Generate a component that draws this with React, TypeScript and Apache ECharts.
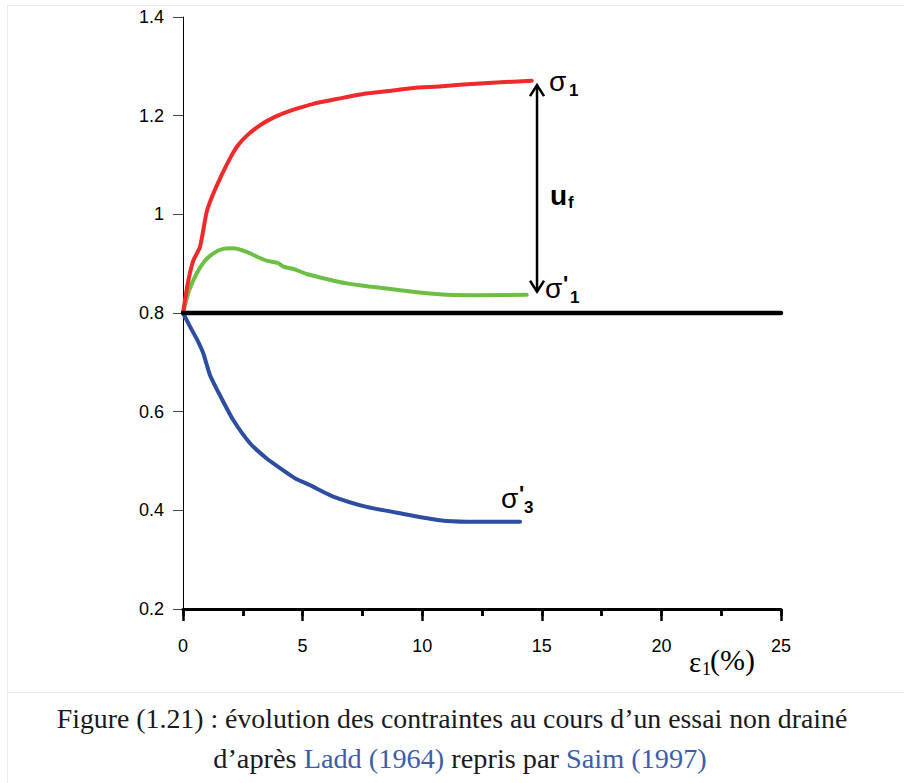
import React, { useEffect, useRef } from "react";
import * as echarts from "echarts";

// strain ε1 (%) and stresses
const sigma1Strain = [0, 0.2, 0.43, 0.71, 0.99, 1.25, 1.55, 1.96, 2.3, 2.66, 3.2, 3.78, 4.5, 5.45, 6.56, 7.54, 8.6, 9.63, 10.7, 11.72, 13.1, 14.58];
const sigma1Values = [0.8, 0.86, 0.906, 0.934, 1.005, 1.04, 1.073, 1.113, 1.14, 1.159, 1.18, 1.196, 1.21, 1.224, 1.235, 1.244, 1.25, 1.256, 1.259, 1.263, 1.267, 1.271];

const sigmaP1Strain = [0, 0.25, 0.57, 0.9, 1.27, 1.68, 2.1, 2.66, 3.1, 3.5, 3.98, 4.19, 4.7, 5.17, 6.0, 6.84, 7.9, 8.93, 10.0, 11.02, 12.42, 14.37];
const sigmaP1Values = [0.8, 0.845, 0.88, 0.905, 0.921, 0.93, 0.931, 0.924, 0.914, 0.906, 0.901, 0.894, 0.888, 0.879, 0.869, 0.86, 0.853, 0.847, 0.841, 0.837, 0.836, 0.837];

const sigmaP3Strain = [0, 0.29, 0.6, 0.85, 1.13, 1.6, 2.1, 2.8, 3.5, 4.1, 4.68, 5.31, 6.28, 7.68, 9.07, 10.74, 11.86, 13.25, 14.09];
const sigmaP3Values = [0.8, 0.773, 0.745, 0.718, 0.674, 0.628, 0.583, 0.536, 0.505, 0.484, 0.465, 0.451, 0.428, 0.407, 0.394, 0.38, 0.377, 0.377, 0.377];

const sigma3Strain = [0, 25];
const sigma3Values = [0.8, 0.8];

// u_f arrow: strain, top, bottom
const ufArrow = [[14.8, 1.264, 0.841]];

const xTicks = { min: 0, max: 25, interval: 5, minorInterval: 2.5 };
const yTicks = { min: 0.2, max: 1.4, interval: 0.2 };

const zip = (xs: number[], ys: number[]) => xs.map((x, i) => [x, ys[i]]);

const SANS = "'Liberation Sans', Arial, sans-serif";
const SERIF = "'Liberation Serif', 'Times New Roman', serif";

const GRID_H = 592;

export default function App() {
  const ref = useRef<HTMLDivElement>(null);

  useEffect(() => {
    if (!ref.current) return;
    const chart = echarts.init(ref.current, null, { renderer: "svg" });

    const lineStyle = (color: string, width = 4) => ({ color, width, cap: "round" as const, join: "round" as const });

    const option: any = {
      animation: false,
      backgroundColor: "#ffffff",
      grid: { left: 183, top: 17, width: 598, height: GRID_H, containLabel: false },
      xAxis: [
        {
          type: "value",
          position: "bottom",
          min: xTicks.min,
          max: xTicks.max,
          interval: xTicks.interval,
          axisLine: { show: true, onZero: false, lineStyle: { color: "#000", width: 3 } },
          axisTick: { show: true, length: 12, lineStyle: { color: "#000", width: 2.5 } },
          minorTick: { show: true, splitNumber: 2, length: 7, lineStyle: { color: "#000", width: 2.5 } },
          splitLine: { show: false },
          axisLabel: { fontFamily: SANS, fontSize: 18, color: "#000", margin: 28 },
          z: 3,
        },
        {
          type: "value",
          position: "top",
          offset: -GRID_H,
          min: xTicks.min,
          max: xTicks.max,
          interval: xTicks.minorInterval,
          axisLine: { show: false, onZero: false },
          axisTick: { show: true, inside: true, length: 7, lineStyle: { color: "#000", width: 2.5 } },
          splitLine: { show: false },
          axisLabel: { show: false },
        },
      ],
      yAxis: {
        type: "value",
        min: yTicks.min,
        max: yTicks.max,
        interval: yTicks.interval,
        axisLine: { show: true, onZero: false, lineStyle: { color: "#000", width: 1 } },
        axisTick: { show: true, length: 10, lineStyle: { color: "#444", width: 1 } },
        splitLine: { show: false },
        axisLabel: { fontFamily: SANS, fontSize: 18, color: "#000", margin: 19 },
      },
      series: [
        { type: "line", data: zip(sigmaP3Strain, sigmaP3Values), showSymbol: false, smooth: 0.2, lineStyle: lineStyle("#2d4da0") },
        { type: "line", data: zip(sigmaP1Strain, sigmaP1Values), showSymbol: false, smooth: 0.2, lineStyle: lineStyle("#6dbe45") },
        { type: "line", data: zip(sigma1Strain, sigma1Values), showSymbol: false, smooth: 0.2, lineStyle: lineStyle("#ee2a2a") },
        { type: "line", data: zip(sigma3Strain, sigma3Values), showSymbol: false, lineStyle: lineStyle("#000000", 4.5) },
        {
          type: "custom",
          data: ufArrow,
          renderItem: (params: any, api: any) => {
            const top = api.coord([api.value(0), api.value(1)]);
            const bot = api.coord([api.value(0), api.value(2)]);
            const st = { stroke: "#000", lineWidth: 2.5, fill: null, lineJoin: "miter", lineCap: "butt" };
            return {
              type: "group",
              children: [
                { type: "line", shape: { x1: top[0], y1: top[1] + 1, x2: bot[0], y2: bot[1] - 1 }, style: st },
                { type: "polyline", shape: { points: [[top[0] - 7, top[1] + 12], [top[0], top[1] + 1], [top[0] + 7, top[1] + 12]] }, style: st },
                { type: "polyline", shape: { points: [[bot[0] - 7, bot[1] - 12], [bot[0], bot[1] - 1], [bot[0] + 7, bot[1] - 12]] }, style: st },
              ],
            };
          },
          z: 5,
        },
      ],
    };
    chart.setOption(option);

    const px = (x: number, y: number) => chart.convertToPixel({ xAxisIndex: 0, yAxisIndex: 0 }, [x, y]) as number[];
    const t = (text: string, x: number, y: number, size: number, bold = false, family = SANS, color = "#000") => ({
      type: "text",
      x,
      y,
      style: { text, fontSize: size, fontWeight: bold ? "bold" : "normal", fontFamily: family, fill: color, align: "left", verticalAlign: "middle" },
    });
    const group = (anchor: number[], children: any[]) => ({ type: "group", x: anchor[0], y: anchor[1], children });

    const s1 = px(15.3, 1.268);
    const uf = px(15.34, 1.039);
    const sp1 = px(15.13, 0.847);
    const sp3 = px(13.29, 0.421);
    const eps = px(21.15, 0.2);

    const frame = { stroke: "#ebebeb", lineWidth: 1 };
    chart.setOption({
      graphic: [
        { type: "line", shape: { x1: 7, y1: 5.5, x2: 904, y2: 5.5 }, style: frame, silent: true },
        { type: "line", shape: { x1: 7.5, y1: 5, x2: 7.5, y2: 783 }, style: frame, silent: true },
        { type: "line", shape: { x1: 7, y1: 692.5, x2: 904, y2: 692.5 }, style: frame, silent: true },
        group(s1, [t("σ", 0, -1, 28), t("1", 20, 8, 17, true)]),
        group(uf, [t("u", 0, 0, 28, true), t("f", 18, 7, 17, true)]),
        group(sp1, [t("σ", 0, -1, 28), t("'", 18, -6, 22, true), t("1", 25, 8, 17, true)]),
        group(sp3, [t("σ", 0, -1, 28), t("'", 18, -6, 22, true), t("3", 23, 8, 17, true)]),
        group([eps[0], eps[1] + 52], [
          t("ε", 0, 1, 29, false, SERIF),
          t("1", 13, 8, 18, false, SERIF),
          t("(%)", 21, -2, 30, false, SERIF),
        ]),
        {
          type: "text",
          x: 452,
          y: 718,
          style: {
            text: "Figure (1.21) : évolution des contraintes au cours d’un essai non drainé",
            fontSize: 27.8,
            fontFamily: SERIF,
            fill: "#1a1a1a",
            align: "center",
            verticalAlign: "middle",
          },
        },
        {
          type: "text",
          x: 460,
          y: 758,
          style: {
            text: "{k|d’après }{b|Ladd (1964)}{k| repris par }{b|Saim (1997)}",
            align: "center",
            verticalAlign: "middle",
            rich: {
              k: { fontSize: 28.3, fontFamily: SERIF, fill: "#1a1a1a" },
              b: { fontSize: 28.3, fontFamily: SERIF, fill: "#3c5ea9" },
            },
          },
        },
      ],
    });

    return () => chart.dispose();
  }, []);

  return <div ref={ref} style={{ position: "absolute", left: 0, top: 0, width: 904, height: 783 }} />;
}
